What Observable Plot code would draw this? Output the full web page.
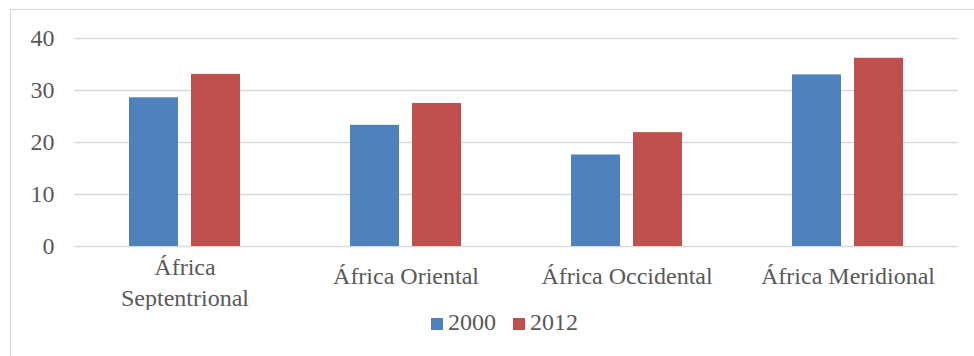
<!DOCTYPE html>
<html lang="es">
<head>
<meta charset="utf-8">
<script src="https://cdn.jsdelivr.net/npm/d3@7"></script>
<script src="https://cdn.jsdelivr.net/npm/@observablehq/plot@0.6"></script>
<style>
  html, body { margin: 0; padding: 0; background: #fff; }
  #wrap { position: relative; width: 974px; height: 356px; overflow: hidden; background: #fff;
          font-family: "Liberation Serif", "Times New Roman", serif;
          text-rendering: optimizeLegibility; font-kerning: normal; font-feature-settings: "kern" 1, "liga" 1; }
  #frame { position: absolute; left: 10px; top: 9px; width: 1000px; height: 400px;
           border-left: 1.5px solid #d9d9d9; border-top: 1.5px solid #d9d9d9; }
  #chart { position: absolute; left: 0; top: 0; }
  #chart svg, #chart svg text { font-family: "Liberation Serif", "Times New Roman", serif;
          text-rendering: optimizeLegibility; font-feature-settings: "kern" 1, "liga" 1; }
  #legend { position: absolute; left: 431px; top: 310px; display: flex; align-items: center;
            font-size: 24px; line-height: 24px; color: #595959; }
  #legend .sw { width: 12px; height: 12px; position: relative; top: 2px; margin-right: 5px; }
  #legend .item { display: flex; align-items: center; margin-right: 17px; }
</style>
</head>
<body>
<div id="wrap">
  <div id="frame"></div>
  <div id="chart"></div>
  <div id="legend"></div>
</div>
<script>
// Regions and their axis labels
const regions = ["África Septentrional", "África Oriental", "África Occidental", "África Meridional"];
const regionLabels = ["África\nSeptentrional", "África Oriental", "África Occidental", "África Meridional"];

// Series
const years = ["2000", "2012"];
const values2000 = [28.6, 23.3, 17.6, 33.0];
const values2012 = [33.1, 27.5, 21.9, 36.2];
const colors = ["#4f81bd", "#c0504d"];

// Y axis ticks
const yTicks = [0, 10, 20, 30, 40];

const rows = regions.flatMap((r, i) => [
  {region: r, year: years[0], value: values2000[i]},
  {region: r, year: years[1], value: values2012[i]}
]);

const labelRows = regions.map((r, i) => ({region: r, label: regionLabels[i]}));
const multiLine = labelRows.filter(d => d.label.includes("\n"));
const singleLine = labelRows.filter(d => !d.label.includes("\n"));

const serif = "'Liberation Serif', 'Times New Roman', serif";

const chart = Plot.plot({
  width: 974,
  height: 310,
  marginTop: 38,
  marginBottom: 64,
  marginLeft: 72,
  marginRight: 15,
  style: {fontFamily: serif, fontSize: "24px", color: "#595959", background: "transparent"},
  fx: {domain: regions, padding: 0, axis: null, label: null},
  x: {domain: years, paddingInner: 0.206, paddingOuter: 0.863, axis: null, label: null},
  y: {domain: [0, 40], ticks: yTicks, tickSize: 0, tickPadding: 20, label: null, tickFormat: d => String(d)},
  color: {domain: years, range: colors},
  marks: [
    Plot.ruleY(yTicks, {stroke: "#d9d9d9", strokeWidth: 1.5}),
    Plot.barY(rows, {fx: "region", x: "year", y: "value", fill: "year"}),
    Plot.text(singleLine, {fx: "region", text: "label", frameAnchor: "bottom", lineAnchor: "middle", dy: 30, fontSize: 24, fontFamily: serif, fill: "#595959"}),
    Plot.text(multiLine, {fx: "region", text: "label", frameAnchor: "bottom", lineAnchor: "middle", dy: 34, lineHeight: 1.29, fontSize: 24, fontFamily: serif, fill: "#595959"})
  ]
});
document.getElementById("chart").appendChild(chart);

// Legend
const legend = document.getElementById("legend");
years.forEach((y, i) => {
  const item = document.createElement("div");
  item.className = "item";
  const sw = document.createElement("span");
  sw.className = "sw";
  sw.style.background = colors[i];
  const t = document.createElement("span");
  t.textContent = y;
  item.appendChild(sw);
  item.appendChild(t);
  legend.appendChild(item);
});
</script>
</body>
</html>
